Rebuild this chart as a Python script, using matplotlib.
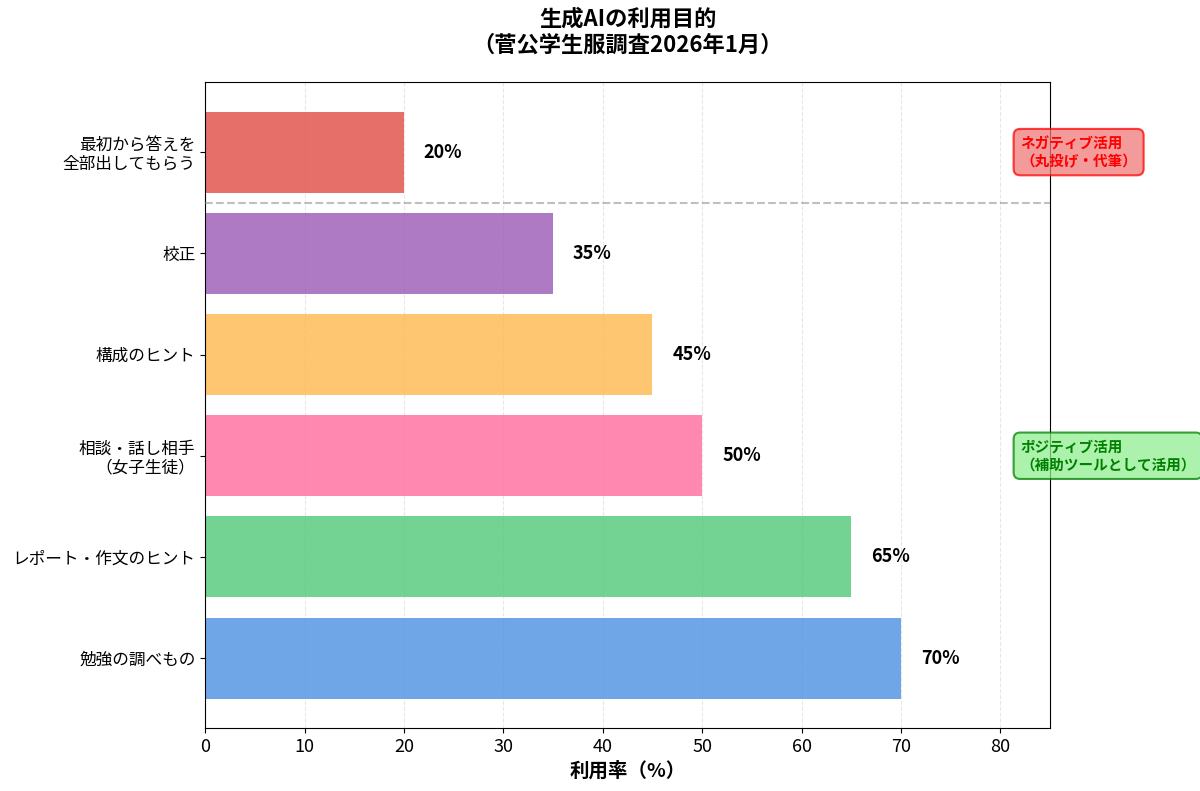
import matplotlib
matplotlib.use("Agg")
import matplotlib.pyplot as plt

plt.rcParams['font.family'] = ['Noto Sans CJK JP', 'DejaVu Sans']

categories = ["勉強の調べもの", "レポート・作文のヒント", "相談・話し相手\n（女子生徒）",
              "構成のヒント", "校正", "最初から答えを\n全部出してもらう"]
values = [70, 65, 50, 45, 35, 20]
colors = ["#4A90E2", "#50C878", "#FF6B9D", "#FFB84D", "#9B59B6", "#E04B45"]
xticks = [0, 10, 20, 30, 40, 50, 60, 70, 80]

fig = plt.figure(figsize=(12, 7.91), dpi=100)
ax = fig.add_axes([0.171, 0.0796, 0.704, 0.8164])

ypos = list(range(len(categories)))
ax.barh(ypos, values, height=0.8, color=colors, alpha=0.8, zorder=2)
ax.set_yticks(ypos)
ax.set_yticklabels(categories, fontsize=12, linespacing=1.15)
ax.set_xlim(0, 85)
ax.set_xticks(xticks)
ax.tick_params(axis='x', labelsize=13)
ax.grid(axis='x', linestyle='--', alpha=0.3, zorder=0)
ax.set_axisbelow(True)

for y, v in zip(ypos, values):
    ax.text(v + 2, y, f"{v}%", va='center', ha='left', fontsize=13, fontweight='bold')

ax.axhline(4.5, color='gray', linestyle='--', linewidth=1.5, alpha=0.5, zorder=3)

ax.text(82, 5, "ネガティブ活用\n（丸投げ・代筆）", ha='left', va='center', fontsize=10.5,
        fontweight='bold', color='red', zorder=5, clip_on=False, linespacing=1.1,
        bbox=dict(boxstyle='round,pad=0.45', facecolor='#F07878', edgecolor='red',
                  alpha=0.75, linewidth=1.5))
ax.text(82, 2, "ポジティブ活用\n（補助ツールとして活用）", ha='left', va='center', fontsize=10.5,
        fontweight='bold', color='green', zorder=5, clip_on=False, linespacing=1.1,
        bbox=dict(boxstyle='round,pad=0.45', facecolor='#90EE90', edgecolor='green',
                  alpha=0.75, linewidth=1.5))

ax.set_xlabel("利用率（%）", fontsize=14, fontweight='bold')
ax.set_title("生成AIの利用目的\n（菅公学生服調査2026年1月）", fontsize=16, fontweight='bold',
             pad=22, linespacing=1.2)

fig.savefig("out.png", dpi=100)
